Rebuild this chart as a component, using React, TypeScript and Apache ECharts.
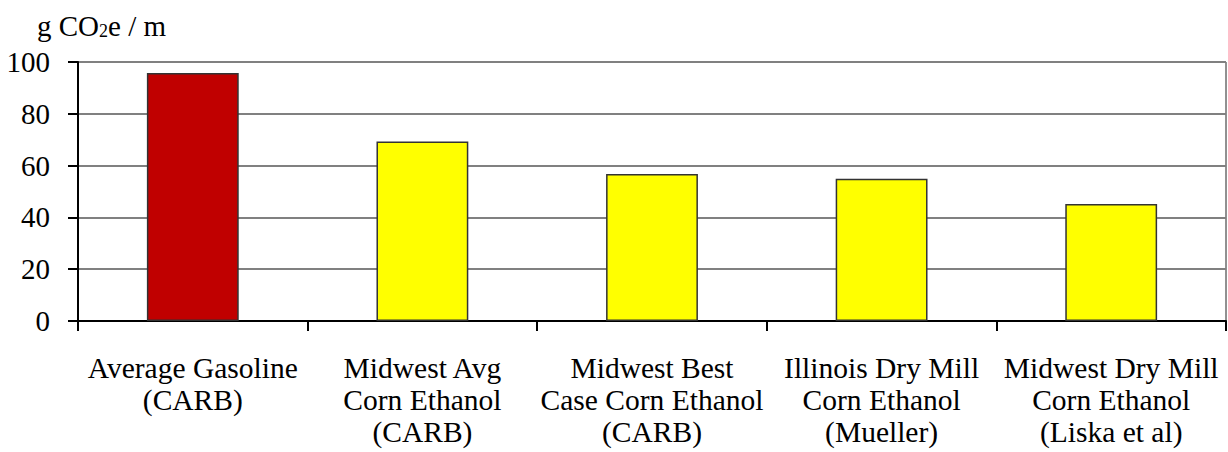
import React, { useEffect, useRef } from "react";
import * as echarts from "echarts";

const categories = [
  "Average Gasoline\n(CARB)",
  "Midwest Avg\nCorn Ethanol\n(CARB)",
  "Midwest Best\nCase Corn Ethanol\n(CARB)",
  "Illinois Dry Mill\nCorn Ethanol\n(Mueller)",
  "Midwest Dry Mill\nCorn Ethanol\n(Liska et al)",
];
const values = [95.8, 69.3, 56.8, 54.9, 45.2];
const barColors = ["#C00000", "#FFFF00", "#FFFF00", "#FFFF00", "#FFFF00"];
const yTicks = [0, 20, 40, 60, 80, 100];

const FONT = "Liberation Serif";

export default function App() {
  const ref = useRef<HTMLDivElement>(null);
  useEffect(() => {
    if (!ref.current) return;
    const chart = echarts.init(ref.current, null, { renderer: "svg" });
    chart.setOption({
      animation: false,
      backgroundColor: "#fff",
      textStyle: { fontFamily: FONT },
      title: {
        text: "{a|g CO}{s|2}{a|e / m}",
        left: 32,
        top: 5,
        textStyle: {
          fontFamily: FONT,
          fontWeight: "normal",
          rich: {
            a: { fontFamily: FONT, fontWeight: "normal", fontSize: 29, color: "#000", verticalAlign: "bottom" },
            s: { fontFamily: FONT, fontWeight: "normal", fontSize: 18, color: "#000", padding: [12, 0, 0, 0], verticalAlign: "bottom" },
          },
        },
      },
      grid: {
        left: 78,
        right: 2,
        top: 62,
        bottom: 131,
        show: true,
        borderColor: "#222",
        borderWidth: 1,
      },
      xAxis: {
        type: "category",
        data: categories,
        axisLine: { lineStyle: { color: "#000", width: 2 } },
        axisTick: { show: true, length: 10, lineStyle: { color: "#000", width: 2 } },
        axisLabel: {
          fontFamily: FONT,
          fontSize: 29.5,
          color: "#000",
          lineHeight: 32,
          margin: 31,
          interval: 0,
        },
      },
      yAxis: {
        type: "value",
        min: 0,
        max: 100,
        interval: 20,
        axisLine: { show: true, lineStyle: { color: "#000", width: 2 } },
        axisTick: { show: true, length: 10, lineStyle: { color: "#000", width: 2 } },
        axisLabel: {
          fontFamily: FONT,
          fontSize: 29,
          color: "#000",
          margin: 28,
          formatter: (v: number) => (yTicks.includes(v) ? String(v) : ""),
        },
        splitLine: { show: true, lineStyle: { color: "#808080", width: 2 } },
      },
      series: [
        {
          type: "bar",
          barWidth: "40%",
          data: values.map((v, i) => ({
            value: v,
            itemStyle: { color: barColors[i], borderColor: "#333", borderWidth: 1.5 },
          })),
        },
      ],
    });
    return () => chart.dispose();
  }, []);
  return (
    <div
      ref={ref}
      style={{ position: "fixed", left: 0, top: 0, width: 1228, height: 452 }}
    />
  );
}
